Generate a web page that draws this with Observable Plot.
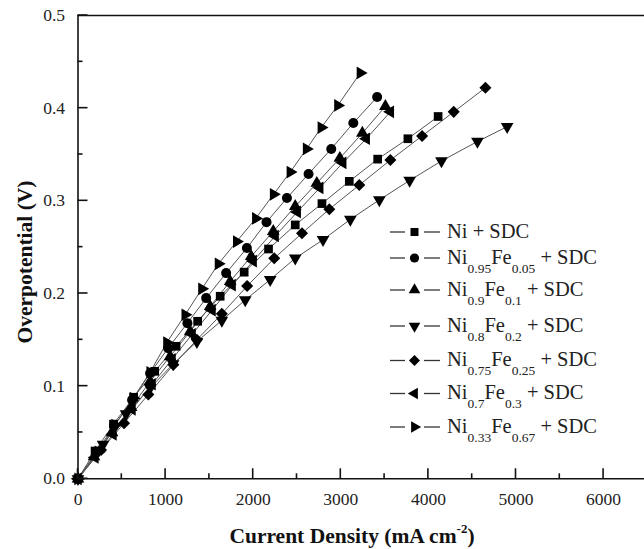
<!DOCTYPE html>
<html><head><meta charset="utf-8">
<script src="https://cdn.jsdelivr.net/npm/d3@7"></script>
<script src="https://cdn.jsdelivr.net/npm/@observablehq/plot@0.6"></script>
<style>
body{margin:0;background:#fff}
#chart{position:relative;width:644px;height:549px;overflow:hidden}
#chart svg text, #chart svg tspan{font-family:"Liberation Serif","Times New Roman",serif}
</style>
</head><body><div id="chart"></div>
<script>
// ---- data (current density in mA cm^-2, overpotential in V) ----
const niX      = [0, 195, 405, 635, 875, 1120, 1366, 1623, 1897, 2175, 2480, 2785, 3097, 3421, 3766, 4111];
const niY      = [0, 0.030, 0.059, 0.088, 0.116, 0.143, 0.170, 0.197, 0.223, 0.248, 0.274, 0.297, 0.321, 0.345, 0.367, 0.391];
const fe005X   = [0, 206, 411, 617, 823, 1029, 1249, 1463, 1691, 1928, 2152, 2385, 2632, 2891, 3143, 3415];
const fe005Y   = [0, 0.028, 0.057, 0.085, 0.114, 0.141, 0.168, 0.195, 0.222, 0.249, 0.277, 0.303, 0.329, 0.356, 0.384, 0.412];
const fe01X    = [0, 183, 389, 606, 823, 1051, 1280, 1509, 1737, 1977, 2229, 2480, 2726, 2989, 3246, 3509];
const fe01Y    = [0, 0.024, 0.050, 0.077, 0.105, 0.132, 0.159, 0.186, 0.213, 0.240, 0.267, 0.294, 0.319, 0.346, 0.373, 0.402];
const fe02X    = [0, 286, 549, 823, 1086, 1357, 1642, 1909, 2194, 2480, 2797, 3109, 3440, 3786, 4149, 4560, 4899];
const fe02Y    = [0, 0.037, 0.070, 0.098, 0.124, 0.148, 0.171, 0.193, 0.215, 0.238, 0.258, 0.280, 0.301, 0.322, 0.343, 0.364, 0.380];
const fe025X   = [0, 263, 526, 803, 1089, 1357, 1642, 1931, 2240, 2557, 2869, 3211, 3566, 3928, 4289, 4651];
const fe025Y   = [0, 0.031, 0.060, 0.091, 0.123, 0.150, 0.178, 0.208, 0.238, 0.265, 0.291, 0.317, 0.344, 0.370, 0.396, 0.422];
const fe03X    = [0, 194, 400, 617, 846, 1074, 1303, 1531, 1760, 2000, 2251, 2503, 2760, 3023, 3291, 3566];
const fe03Y    = [0, 0.023, 0.048, 0.075, 0.102, 0.129, 0.156, 0.182, 0.209, 0.235, 0.262, 0.288, 0.314, 0.341, 0.367, 0.396];
const fe067X   = [0, 232, 423, 632, 823, 1014, 1223, 1414, 1603, 1811, 2029, 2232, 2423, 2609, 2777, 2966, 3223];
const fe067Y   = [0, 0.029, 0.058, 0.087, 0.115, 0.147, 0.177, 0.205, 0.232, 0.256, 0.281, 0.307, 0.331, 0.356, 0.379, 0.403, 0.438];

const seriesNames = [
  "Ni + SDC",
  "Ni_{0.95}Fe_{0.05} + SDC",
  "Ni_{0.9}Fe_{0.1} + SDC",
  "Ni_{0.8}Fe_{0.2} + SDC",
  "Ni_{0.75}Fe_{0.25} + SDC",
  "Ni_{0.7}Fe_{0.3} + SDC",
  "Ni_{0.33}Fe_{0.67} + SDC"
];
const xTicks = [0, 1000, 2000, 3000, 4000, 5000, 6000];
const xMinor = [500, 1500, 2500, 3500, 4500, 5500];
const yTicks = [0, 0.1, 0.2, 0.3, 0.4, 0.5];
const yMinor = [0.05, 0.15, 0.25, 0.35, 0.45];

// ---- styling ----
const styles = [
  {symbol: "square",   rotate: 0,   r: 4.9},
  {symbol: "circle",   rotate: 0,   r: 5.0},
  {symbol: "triangle", rotate: 0,   r: 4.7},
  {symbol: "triangle", rotate: 180, r: 4.7},
  {symbol: "square",   rotate: 45,  r: 4.8},
  {symbol: "triangle", rotate: -90, r: 4.7},
  {symbol: "triangle", rotate: 90,  r: 4.7}
];
const xs = [niX, fe005X, fe01X, fe02X, fe025X, fe03X, fe067X];
const ys = [niY, fe005Y, fe01Y, fe02Y, fe025Y, fe03Y, fe067Y];
const series = seriesNames.map((name, k) => ({
  name, ...styles[k],
  data: xs[k].map((x, i) => ({x, y: ys[k][i]}))
}));

const font = "'Liberation Serif', 'Times New Roman', serif";
const ink = "#111";

const marks = [];
series.forEach(s => marks.push(Plot.line(s.data, {x: "x", y: "y", stroke: "#555", strokeWidth: 1})));
series.forEach(s => marks.push(Plot.dot(s.data, {x: "x", y: "y", symbol: s.symbol, rotate: s.rotate, r: s.r, fill: "#000", stroke: "none"})));
marks.push(
  Plot.ruleY([0, 0.5], {stroke: ink, strokeWidth: 1.6}),
  Plot.ruleX([0], {stroke: ink, strokeWidth: 1.6}),
  Plot.axisX(xTicks, {anchor: "bottom", tickSize: 0, tickPadding: 14, stroke: "none", fill: "#222", fontSize: 17.5, tickFormat: d => String(d), label: null}),
  Plot.axisY(yTicks, {anchor: "left", tickSize: 0, tickPadding: 13, stroke: "none", fill: "#222", fontSize: 17.5, tickFormat: d3.format(".1f"), label: null})
);

const svg = Plot.plot({
  width: 644, height: 549,
  marginLeft: 77.5, marginRight: 0, marginTop: 15, marginBottom: 70.7,
  x: {domain: [0, 6467], label: null},
  y: {domain: [0, 0.5], label: null},
  style: {fontFamily: font, fontSize: "17.5px", color: "#222", background: "#fff", overflow: "visible"},
  marks
});
document.getElementById("chart").appendChild(svg);

const S = d3.select(svg);
// ---- inward ticks, placed with Plot's own scales ----
const sx = svg.scale("x"), sy = svg.scale("y");
const x0 = sx.apply(0), y0 = sy.apply(0);
const tg = S.append("g").attr("stroke", ink).attr("stroke-width", 1.6);
xTicks.concat(xMinor).forEach(v => {
  const len = xTicks.includes(v) ? 10 : 5, px = sx.apply(v);
  tg.append("line").attr("x1", px).attr("x2", px).attr("y1", y0).attr("y2", y0 - len);
});
yTicks.concat(yMinor).forEach(v => {
  const len = yTicks.includes(v) ? 10 : 5, py = sy.apply(v);
  tg.append("line").attr("x1", x0).attr("x2", x0 + len).attr("y1", py).attr("y2", py);
});

// ---- axis titles ----
const xt = S.append("text").attr("x", 352).attr("y", 543).attr("text-anchor", "middle")
  .attr("font-weight", "bold").attr("font-size", 21.5).attr("fill", "#111");
xt.append("tspan").text("Current Density (mA cm");
xt.append("tspan").attr("font-size", 13).attr("dy", -10).text("-2");
xt.append("tspan").attr("dy", 10).text(")");

S.append("text").attr("transform", "translate(32,262) rotate(-90)").attr("text-anchor", "middle")
  .attr("font-weight", "bold").attr("font-size", 21.5).attr("fill", "#111")
  .text("Overpotential (V)");

// ---- legend ----
const rowY = [232, 258, 290, 326, 360.5, 393.5, 427];
const symMap = {square: d3.symbolSquare, circle: d3.symbolCircle, triangle: d3.symbolTriangle};
const lg = S.append("g");
series.forEach((s, i) => {
  const y = rowY[i];
  lg.append("line").attr("x1", 390).attr("x2", 405).attr("y1", y).attr("y2", y).attr("stroke", "#333").attr("stroke-width", 1.3);
  lg.append("line").attr("x1", 424).attr("x2", 440).attr("y1", y).attr("y2", y).attr("stroke", "#333").attr("stroke-width", 1.3);
  const rr = s.r * 0.92;
  lg.append("path").attr("d", d3.symbol(symMap[s.symbol], rr * rr * Math.PI)())
    .attr("transform", `translate(414.5,${y}) rotate(${s.rotate})`).attr("fill", "#000");
  const t = lg.append("text").attr("x", 447).attr("y", y + 5.5).attr("text-anchor", "start")
    .attr("font-size", 20.5).attr("fill", "#222");
  const parts = s.name.split(/_\{([^}]*)\}/);
  let sub = false;
  parts.forEach((p, j) => {
    const isSub = j % 2 === 1;
    if (p === "") return;
    const ts = t.append("tspan").text(p);
    if (isSub && !sub) { ts.attr("font-size", 13.5).attr("dy", 9); sub = true; }
    else if (!isSub && sub) { ts.attr("dy", -9); sub = false; }
    else if (isSub) ts.attr("font-size", 13.5);
  });
});
</script></body></html>
